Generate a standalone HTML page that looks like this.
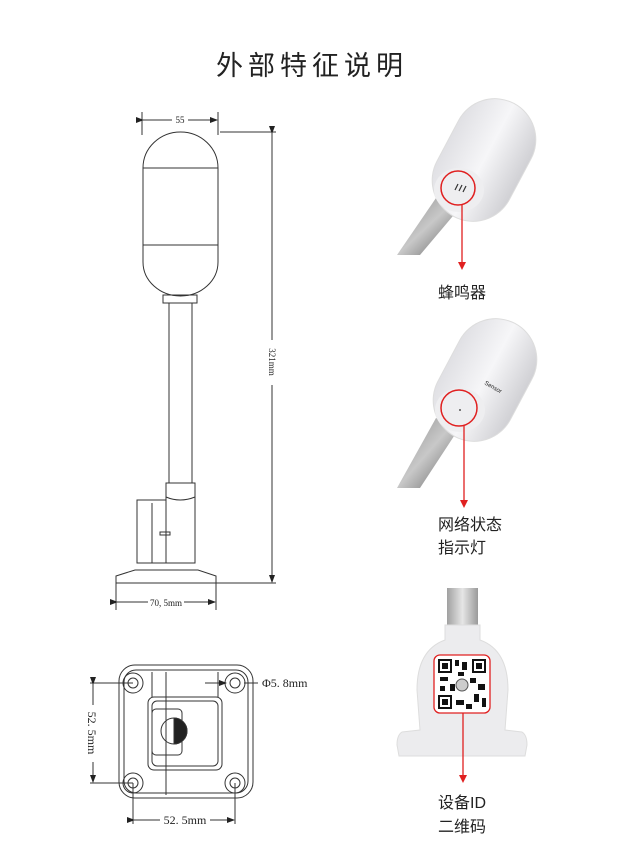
<!DOCTYPE html>
<html><head><meta charset="utf-8"><style>
html,body{margin:0;padding:0;background:#fff;width:624px;height:848px;overflow:hidden}
svg{display:block}
.t{font-family:"Liberation Serif","Noto Serif CJK SC",serif;fill:#222}
.c{font-family:"Liberation Sans","Noto Sans CJK SC",sans-serif;fill:#222}
</style></head><body>
<svg width="624" height="848" viewBox="0 0 624 848" xmlns="http://www.w3.org/2000/svg">
<defs>
<marker id="a" markerWidth="8" markerHeight="8" refX="7" refY="4" orient="auto"><path d="M0,1 L8,4 L0,7 z" fill="#222"/></marker>
<linearGradient id="pole" x1="0" y1="0" x2="1" y2="1"><stop offset="0" stop-color="#8a8a8a"/><stop offset=".5" stop-color="#c8c8c8"/><stop offset="1" stop-color="#606060"/></linearGradient>
<linearGradient id="cap" x1="0" y1="0" x2="1" y2="0"><stop offset="0" stop-color="#e0e0e4"/><stop offset=".5" stop-color="#f6f6f8"/><stop offset="1" stop-color="#d0d0d4"/></linearGradient>
<linearGradient id="vp" x1="0" y1="0" x2="1" y2="0"><stop offset="0" stop-color="#a0a0a0"/><stop offset=".5" stop-color="#e6e6e6"/><stop offset="1" stop-color="#9a9a9a"/></linearGradient>
</defs>
<text x="312" y="75" text-anchor="middle" class="c" font-size="27" letter-spacing="5">外部特征说明</text>

<g fill="none" stroke="#333" stroke-width="1">
<line x1="142" y1="112" x2="142" y2="135"/><line x1="218" y1="112" x2="218" y2="135"/>
<line x1="143" y1="120" x2="172" y2="120" marker-start="url(#a)"/><line x1="188" y1="120" x2="217" y2="120" marker-end="url(#a)"/>
<path d="M143,168 A37.5,36 0 0 1 218,168 L218,262 A37.5,34 0 0 1 143,262 Z" fill="#fff"/>
<line x1="143" y1="168" x2="218" y2="168"/><line x1="143" y1="245" x2="218" y2="245"/>
<rect x="163" y="295" width="34" height="8"/>
<rect x="169" y="303" width="23" height="180"/>
<rect x="166" y="483" width="29" height="80"/>
<path d="M166,497 Q180,503 195,497"/>
<rect x="137" y="500" width="29" height="63"/>
<line x1="152" y1="503" x2="152" y2="563"/>
<rect x="160" y="532" width="10" height="3"/>
<path d="M116,576 L135,570 L198,570 L216,576 L216,583 L116,583 Z"/>
<line x1="220" y1="132" x2="276" y2="132"/><line x1="216" y1="583" x2="276" y2="583"/>
<line x1="272" y1="133" x2="272" y2="340" marker-start="url(#a)"/><line x1="272" y1="385" x2="272" y2="582" marker-end="url(#a)"/>
<line x1="116" y1="583" x2="116" y2="610"/><line x1="216" y1="583" x2="216" y2="610"/>
<line x1="117" y1="602" x2="148" y2="602" marker-start="url(#a)"/><line x1="184" y1="602" x2="215" y2="602" marker-end="url(#a)"/>
</g>
<text x="180" y="123" text-anchor="middle" class="t" font-size="9">55</text>
<text transform="translate(269,362) rotate(90)" text-anchor="middle" class="t" font-size="9">321mm</text>
<text x="166" y="606" text-anchor="middle" class="t" font-size="9">70, 5mm</text>

<g fill="none" stroke="#333" stroke-width="1">
<rect x="119" y="665" width="134" height="133" rx="16"/>
<rect x="124" y="670" width="124" height="123" rx="12"/>
<rect x="148" y="697" width="74" height="73" rx="6"/>
<rect x="152" y="701" width="66" height="65" rx="5"/>
<line x1="166" y1="672" x2="166" y2="795"/>
<line x1="152" y1="672" x2="152" y2="697"/><line x1="218" y1="672" x2="218" y2="697"/>
<rect x="152" y="709" width="30" height="46" rx="4"/>
<circle cx="174" cy="731" r="13"/>
<path d="M174,718 A13,13 0 0 1 174,744 Z" fill="#222"/>
<circle cx="133" cy="683" r="10"/><circle cx="133" cy="683" r="5"/>
<circle cx="235" cy="683" r="10"/><circle cx="235" cy="683" r="5"/>
<circle cx="133" cy="783" r="10"/><circle cx="133" cy="783" r="5"/>
<circle cx="235" cy="783" r="10"/><circle cx="235" cy="783" r="5"/>
<line x1="90" y1="683" x2="133" y2="683"/><line x1="90" y1="783" x2="133" y2="783"/>
<line x1="93" y1="684" x2="93" y2="705" marker-start="url(#a)"/><line x1="93" y1="762" x2="93" y2="782" marker-end="url(#a)"/>
<line x1="133" y1="783" x2="133" y2="824"/><line x1="235" y1="783" x2="235" y2="824"/>
<line x1="134" y1="820" x2="160" y2="820" marker-start="url(#a)"/><line x1="210" y1="820" x2="234" y2="820" marker-end="url(#a)"/>
<line x1="205" y1="683" x2="226" y2="683" marker-end="url(#a)"/><line x1="244" y1="683" x2="258" y2="683"/>
</g>
<text transform="translate(88,733) rotate(90)" text-anchor="middle" class="t" font-size="12">52. 5mm</text>
<text x="185" y="824" text-anchor="middle" class="t" font-size="12">52. 5mm</text>
<text x="262" y="687" class="t" font-size="12">Φ5. 8mm</text>

<!-- photo 1 -->
<path d="M397,255 L436,198 L458,210 L420,255 Z" fill="url(#pole)"/>
<g transform="rotate(28 484 160)"><rect x="443" y="96" width="82" height="128" rx="41" fill="url(#cap)" stroke="#ddd"/></g>
<ellipse cx="459" cy="190" rx="25" ry="22" fill="#eeeef0"/>
<path d="M455,190 l3,-6 M459,191 l3,-6 M463,192 l3,-6" stroke="#333" stroke-width="1.2"/>
<circle cx="458" cy="188" r="17" fill="none" stroke="#e02020" stroke-width="1.5"/>
<line x1="462" y1="205" x2="462" y2="262" stroke="#e02020" stroke-width="1.3"/>
<path d="M458,262 L466,262 L462,270 Z" fill="#e02020"/>
<text x="462" y="298" text-anchor="middle" class="c" font-size="16">蜂鸣器</text>

<!-- photo 2 -->
<path d="M397,488 L436,418 L458,430 L420,488 Z" fill="url(#pole)"/>
<g transform="rotate(28 485 380)"><rect x="444" y="316" width="82" height="128" rx="41" fill="url(#cap)" stroke="#ddd"/></g>
<ellipse cx="460" cy="410" rx="25" ry="22" fill="#eeeef0"/>
<circle cx="460" cy="410" r="1" fill="#555"/>
<text x="484" y="384" class="c" font-size="6" fill="#888" transform="rotate(30 484 384)">Sensor</text>
<circle cx="459" cy="408" r="18" fill="none" stroke="#e02020" stroke-width="1.5"/>
<line x1="464" y1="425" x2="464" y2="500" stroke="#e02020" stroke-width="1.3"/>
<path d="M460,500 L468,500 L464,508 Z" fill="#e02020"/>
<text x="438" y="530" class="c" font-size="16">网络状态</text>
<text x="438" y="553" class="c" font-size="16">指示灯</text>

<!-- photo 3 -->
<rect x="447" y="588" width="31" height="40" fill="url(#vp)"/>
<path d="M445,625 L480,625 L480,640 Q508,650 508,690 L505,730 L522,732 Q527,735 527,745 L525,756 L399,756 L397,745 Q397,735 402,732 L420,730 L417,690 Q417,650 445,640 Z" fill="#ececee" stroke="#ddd"/>
<rect x="434" y="655" width="56" height="58" rx="6" fill="#fff" stroke="#e02020" stroke-width="1.3"/>
<g fill="#111">
<rect x="438" y="659" width="14" height="14"/><rect x="472" y="659" width="14" height="14"/><rect x="438" y="695" width="14" height="14"/>
</g>
<g fill="#fff"><rect x="440" y="661" width="10" height="10"/><rect x="474" y="661" width="10" height="10"/><rect x="440" y="697" width="10" height="10"/></g>
<g fill="#111"><rect x="442" y="663" width="6" height="6"/><rect x="476" y="663" width="6" height="6"/><rect x="442" y="699" width="6" height="6"/>
<rect x="455" y="660" width="4" height="6"/><rect x="462" y="662" width="5" height="8"/><rect x="440" y="677" width="8" height="4"/><rect x="450" y="684" width="5" height="7"/>
<rect x="470" y="678" width="6" height="5"/><rect x="478" y="684" width="7" height="6"/><rect x="474" y="694" width="5" height="8"/><rect x="482" y="698" width="4" height="9"/>
<rect x="456" y="700" width="8" height="5"/><rect x="466" y="704" width="6" height="5"/><rect x="440" y="686" width="5" height="5"/><rect x="458" y="672" width="6" height="4"/></g>
<circle cx="462" cy="685" r="6" fill="#ccc" stroke="#555"/>
<line x1="463" y1="713" x2="463" y2="775" stroke="#e02020" stroke-width="1.3"/>
<path d="M459,775 L467,775 L463,783 Z" fill="#e02020"/>
<text x="438" y="808" class="c" font-size="16">设备ID</text>
<text x="438" y="832" class="c" font-size="16">二维码</text>
</svg>
</body></html>
